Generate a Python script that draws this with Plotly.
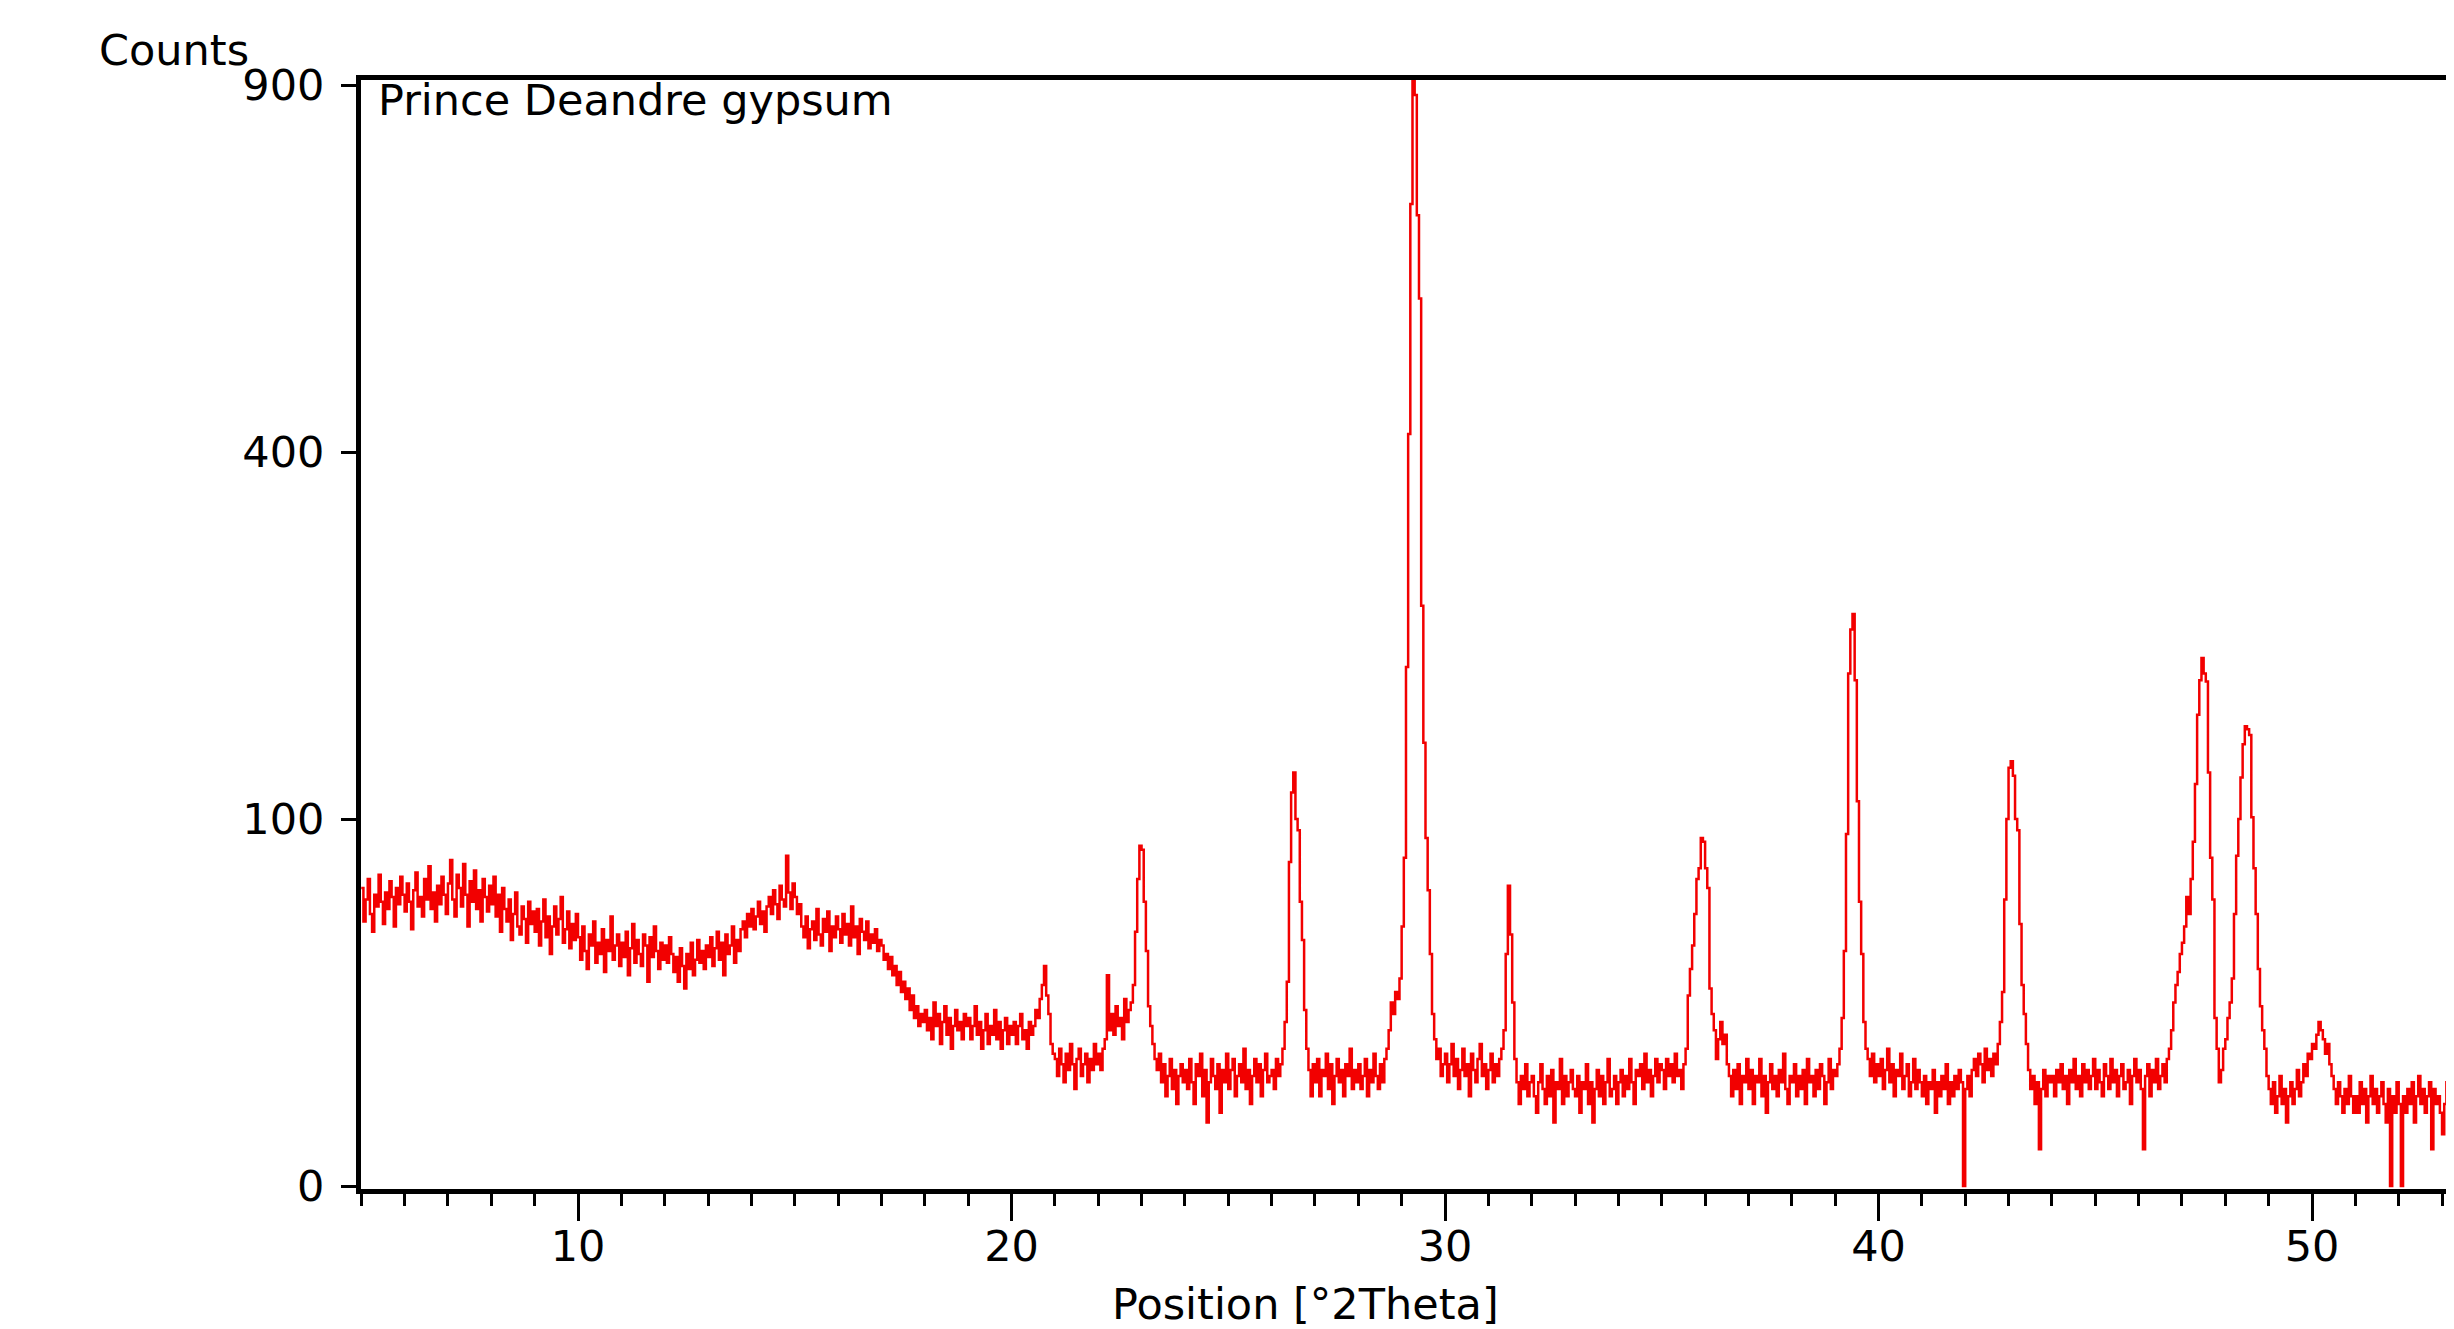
import math
import plotly.graph_objects as go

# Scan definition (instrument step grid)
scan_start = 5.00
scan_step = 0.05

# Counts, one row per degree (x = d.00, d.05, ... d.95)
counts = [
    # 5
    66, 52, 61, 70, 55, 48, 63, 58, 72, 60, 51, 64, 57, 69, 62, 50, 66, 59, 71, 63,
    # 6
    56, 68, 60, 49, 65, 73, 58, 62, 54, 70, 61, 76, 57, 64, 52, 67, 59, 71, 63, 55,
    # 7
    68, 79, 61, 54, 72, 66, 58, 77, 63, 50, 69, 60, 74, 57, 65, 52, 70, 62, 56, 67,
    # 8
    59, 71, 54, 63, 48, 66, 57, 52, 61, 45, 55, 64, 50, 47, 58, 53, 44, 60, 51, 56,
    # 9
    48, 57, 43, 52, 61, 46, 54, 40, 50, 58, 47, 53, 62, 44, 49, 56, 42, 51, 45, 55,
    # 10
    46, 38, 50, 41, 35, 47, 43, 52, 37, 44, 40, 49, 34, 45, 41, 54, 38, 43, 47, 36,
    # 11
    44, 39, 48, 33, 42, 51, 37, 45, 40, 36, 47, 43, 31, 46, 39, 50, 41, 35, 44, 38,
    # 12
    43, 37, 46, 40, 34, 39, 31, 42, 36, 29, 40, 35, 44, 33, 38, 45, 37, 41, 35, 43,
    # 13
    39, 46, 36, 42, 48, 38, 44, 33, 47, 40, 43, 50, 37, 45, 41, 49, 52, 46, 55, 50,
    # 14
    57, 49, 54, 60, 51, 56, 48, 58, 62, 55, 65, 59, 53, 67, 61, 58, 81, 64, 57, 68,
    # 15
    62, 55, 59, 50, 46, 54, 42, 49, 52, 45, 57, 47, 43, 53, 48, 56, 41, 50, 46, 54,
    # 16
    49, 44, 55, 47, 51, 43, 58, 46, 50, 40, 53, 48, 45, 52, 42, 47, 44, 49, 41, 45,
    # 17
    43, 38, 40, 35, 39, 33, 36, 30, 34, 28, 31, 26, 29, 23, 27, 21, 24, 19, 22, 20,
    # 18
    23, 18, 21, 16, 25, 19, 22, 15, 20, 24, 17, 21, 14, 19, 23, 18, 20, 16, 22, 19,
    # 19
    21, 16, 19, 24, 17, 20, 14, 18, 22, 15, 19, 17, 23, 16, 20, 14, 18, 21, 15, 19,
    # 20
    17, 20, 15, 19, 22, 16, 18, 14, 20, 17, 19, 23, 21, 26, 30, 36, 27, 22, 15, 13,
    # 21
    12, 9, 14, 11, 8, 13, 10, 15, 11, 7, 12, 14, 9, 11, 13, 8, 12, 10, 15, 11,
    # 22
    13, 10, 14, 16, 33, 18, 22, 17, 24, 19, 21, 16, 26, 20, 23, 25, 30, 48, 70, 86,
    # 23
    84, 60, 41, 24, 19, 15, 12, 10, 13, 8, 11, 6, 9, 12, 7, 10, 5, 9, 11, 8,
    # 24
    10, 7, 12, 8, 5, 11, 9, 13, 6, 10, 3, 8, 12, 9, 7, 11, 4, 10, 8, 13,
    # 25
    7, 10, 12, 6, 9, 11, 8, 14, 7, 10, 5, 9, 12, 8, 11, 6, 10, 13, 8, 9,
    # 26
    10, 7, 12, 9, 11, 14, 20, 31, 78, 115, 127, 100, 94, 60, 45, 23, 14, 10, 6, 11,
    # 27
    8, 12, 6, 10, 9, 13, 7, 11, 5, 9, 12, 8, 10, 6, 11, 9, 14, 7, 10, 8,
    # 28
    11, 7, 9, 12, 6, 10, 8, 13, 9, 7, 11, 8, 12, 14, 18, 25, 22, 28, 26, 32,
    # 29
    50, 80, 200, 420, 716, 930, 884, 700, 585, 250, 146, 90, 65, 40, 22, 16, 12, 14, 9, 11,
    # 30
    13, 8, 11, 15, 9, 12, 7, 10, 14, 9, 11, 6, 13, 10, 8, 12, 15, 9, 11, 7,
    # 31
    10, 13, 8, 11, 9, 12, 14, 18, 40, 67, 47, 25, 12, 8, 5, 9, 7, 11, 6, 8,
    # 32
    9, 6, 4, 8, 11, 7, 5, 9, 6, 10, 3, 8, 7, 12, 5, 9, 6, 8, 10, 7,
    # 33
    6, 9, 4, 8, 7, 11, 5, 8, 3, 7, 10, 6, 9, 5, 8, 12, 6, 7, 9, 5,
    # 34
    8, 10, 6, 9, 7, 12, 8, 5, 10, 9, 11, 7, 13, 8, 10, 6, 9, 12, 8, 11,
    # 35
    10, 7, 12, 9, 11, 8, 13, 9, 10, 7, 11, 14, 27, 35, 43, 55, 70, 75, 90, 88,
    # 36
    75, 66, 29, 22, 18, 12, 16, 20, 15, 17, 11, 9, 6, 10, 7, 11, 5, 9, 8, 12,
    # 37
    7, 10, 5, 9, 8, 12, 6, 9, 4, 8, 11, 7, 9, 6, 10, 8, 13, 7, 5, 9,
    # 38
    8, 11, 6, 9, 7, 10, 5, 12, 8, 9, 6, 10, 7, 11, 9, 5, 8, 12, 7, 10,
    # 39
    9, 11, 14, 21, 41, 92, 195, 230, 243, 190, 110, 60, 40, 20, 14, 12, 9, 13, 8, 11,
    # 40
    9, 12, 7, 10, 14, 8, 11, 6, 10, 9, 13, 7, 9, 11, 6, 8, 12, 7, 10, 8,
    # 41
    6, 9, 5, 8, 7, 10, 4, 8, 6, 9, 7, 11, 5, 8, 6, 9, 7, 10, 8, 0,
    # 42
    7, 9, 6, 10, 12, 9, 13, 11, 8, 14, 10, 12, 9, 13, 11, 15, 20, 28, 61, 100,
    # 43
    130, 134, 125, 100, 94, 51, 30, 22, 15, 10, 7, 9, 5, 8, 1, 7, 10, 6, 9, 8,
    # 44
    9, 6, 10, 8, 11, 7, 9, 5, 10, 8, 12, 7, 9, 6, 11, 8, 10, 7, 9, 12,
    # 45
    7, 10, 8, 6, 11, 9, 7, 12, 8, 10, 6, 9, 11, 7, 8, 10, 5, 9, 12, 8,
    # 46
    10, 7, 1, 9, 11, 6, 10, 8, 12, 7, 9, 11, 8, 12, 14, 18, 25, 30, 34, 40,
    # 47
    44, 50, 62, 55, 70, 88, 120, 165, 190, 207, 195, 189, 127, 80, 61, 21, 14, 8, 10, 14,
    # 48
    16, 21, 25, 32, 55, 81, 100, 124, 145, 157, 155, 151, 101, 75, 55, 35, 24, 18, 14, 9,
    # 49
    7, 5, 8, 4, 6, 9, 5, 7, 3, 6, 8, 5, 7, 10, 6, 8, 11, 9, 13, 12,
    # 50
    15, 14, 17, 20, 18, 16, 13, 15, 11, 9, 7, 5, 8, 6, 4, 7, 5, 9, 6, 4,
    # 51
    6, 4, 8, 5, 7, 3, 6, 9, 5, 7, 4, 6, 8, 5, 3, 7, 0, 6, 4, 8,
    # 52
    5, 0, 6, 4, 7, 5, 8, 3, 6, 9, 5, 7, 4, 6, 8, 1, 7, 5, 6, 4,
    # 53
    2, 5, 8, 4, 6, 9, 5, 7, 6, 4,
]

two_theta = [round(scan_start + scan_step * i, 2) for i in range(len(counts))]

# Square-root intensity scale
count_ticks = [0, 100, 400, 900]
count_tick_labels = ["0", "100", "400", "900"]

sqrt_counts = [math.sqrt(c) for c in counts]

FONT = "DejaVu Sans"
FS = 43

fig = go.Figure()
fig.add_trace(go.Scatter(
    x=two_theta, y=sqrt_counts, mode="lines",
    line=dict(color="#f20000", width=2.5, shape="hv"),
    hoverinfo="skip", showlegend=False,
))

W, H = 2454, 1329
OFF = 8  # page body offset
L, R, T, B = 353, 0, 72, 148

fig.update_layout(
    width=W, height=H,
    margin=dict(l=L, r=R, t=T, b=B, pad=0),
    paper_bgcolor="white", plot_bgcolor="white",
    font=dict(family=FONT, size=FS, color="black"),
    showlegend=False,
)

pw = W - L - R
ph = H - T - B

x_left = 10 - (578 - OFF - L) / 43.35

fig.update_xaxes(
    range=[x_left, x_left + pw / 43.35],
    showgrid=False, zeroline=False,
    showline=True, linecolor="black", linewidth=5, mirror=True,
    ticks="outside", ticklen=27, tickwidth=3, tickcolor="black",
    tickmode="linear", tick0=0, dtick=10,
    minor=dict(ticks="outside", ticklen=12, tickwidth=3, tickcolor="black", dtick=1, tick0=0, showgrid=False),
    ticklabelstandoff=-12,
    tickfont=dict(family=FONT, size=FS, color="black"),
)
fig.update_yaxes(
    range=[-0.08, 30.14],
    showgrid=False, zeroline=False,
    showline=True, linecolor="black", linewidth=5, mirror=False,
    ticks="outside", ticklen=15, tickwidth=3, tickcolor="black",
    tickmode="array", tickvals=[math.sqrt(v) for v in count_ticks], ticktext=count_tick_labels,
    ticklabelstandoff=8,
    tickfont=dict(family=FONT, size=FS, color="black"),
)


def px_x(px):
    return (px - OFF - L) / pw


def px_y(py):
    return (H - B - (py - OFF)) / ph


fig.add_annotation(text="Counts", xref="paper", yref="paper",
                   x=px_x(97), y=px_y(50), xanchor="left", yanchor="middle",
                   showarrow=False, font=dict(family=FONT, size=FS, color="black"))
fig.add_annotation(text="Prince Deandre gypsum", xref="paper", yref="paper",
                   x=px_x(376), y=px_y(100), xanchor="left", yanchor="middle",
                   showarrow=False, font=dict(family=FONT, size=FS, color="black"))
fig.add_annotation(text="Position [°2Theta]", xref="paper", yref="paper",
                   x=px_x(1305), y=px_y(1304), xanchor="center", yanchor="middle",
                   showarrow=False, font=dict(family=FONT, size=FS, color="black"))

fig.write_html("out.html")
